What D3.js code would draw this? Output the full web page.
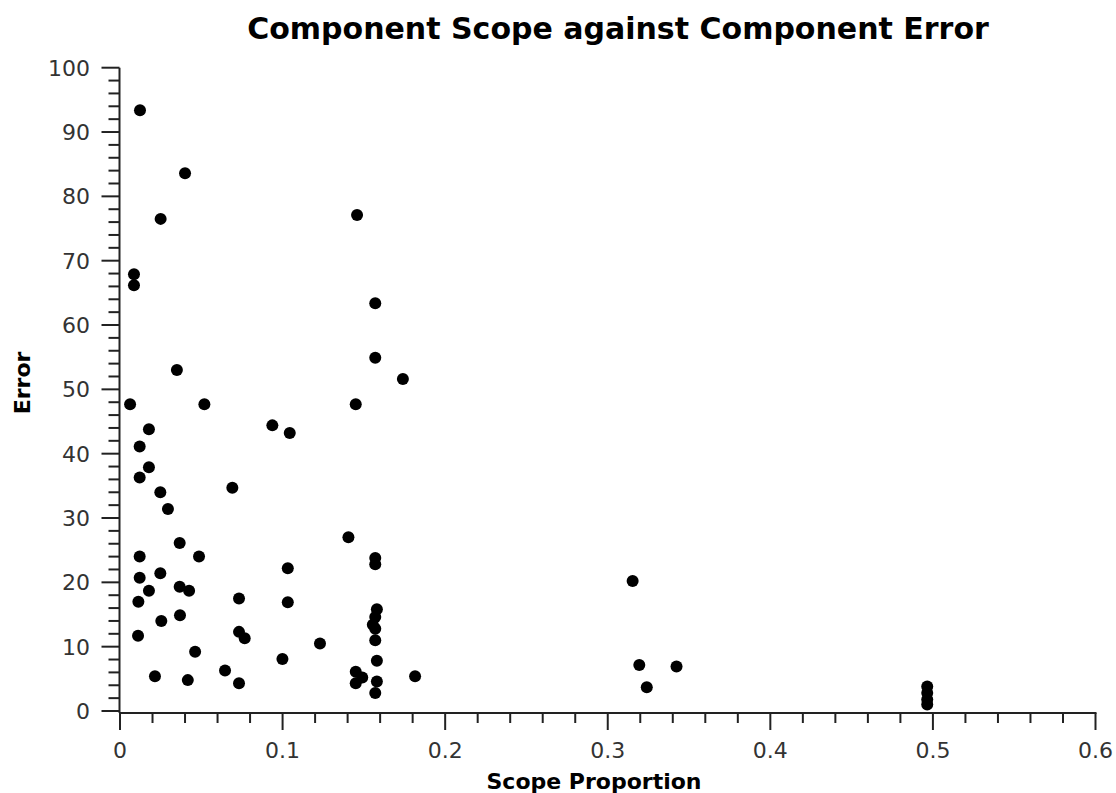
<!DOCTYPE html>
<html>
<head>
<meta charset="utf-8">
<script src="https://cdn.jsdelivr.net/npm/d3@7"></script>
<style>
  html, body { margin: 0; padding: 0; background: #fff; }
  svg { display: block; }
  text { font-family: "DejaVu Sans", sans-serif; }
</style>
</head>
<body>
<svg id="chart" width="1116" height="793"></svg>
<script>
// Scope proportion (x) and error (y) for each component
const scopeProportion = [
  0.0062, 0.0519, 0.1450, 0.0178, 0.0937, 0.1044, 0.0121, 0.0178, 0.0121, 0.0248,
  0.0691, 0.0295, 0.1405, 0.0367, 0.0121, 0.0486, 0.1570, 0.1570, 0.1032, 0.0121,
  0.0248, 0.0178, 0.0367, 0.0425, 0.0113, 0.0732, 0.1032, 0.1580, 0.1570, 0.1555,
  0.1570, 0.1570, 0.1580, 0.1580, 0.1570, 0.1450, 0.1490, 0.1450, 0.1815, 0.1230,
  0.0999, 0.0646, 0.0732, 0.0417, 0.0215, 0.0462, 0.0111, 0.0254, 0.0369, 0.0732,
  0.0767, 0.0123, 0.0400, 0.0250, 0.1458, 0.0086, 0.0086, 0.1570, 0.1570, 0.0350,
  0.1740, 0.3153, 0.3194, 0.3423, 0.3240, 0.4965, 0.4965, 0.4965, 0.4965
];
const errorValues = [
  47.7, 47.7, 47.7, 43.8, 44.4, 43.2, 41.1, 37.9, 36.3, 34.0,
  34.7, 31.4, 27.0, 26.1, 24.0, 24.0, 23.8, 22.8, 22.2, 20.7,
  21.4, 18.7, 19.3, 18.7, 17.0, 17.5, 16.9, 15.8, 14.6, 13.4,
  12.8, 11.0, 7.8, 4.6, 2.8, 6.1, 5.2, 4.3, 5.4, 10.5,
  8.1, 6.3, 4.3, 4.8, 5.4, 9.2, 11.7, 14.0, 14.9, 12.3,
  11.3, 93.4, 83.6, 76.5, 77.1, 67.9, 66.2, 63.4, 54.9, 53.0,
  51.6, 20.2, 7.15, 6.9, 3.7, 3.8, 2.8, 1.8, 1.0
];
const xTickValues = [0, 0.1, 0.2, 0.3, 0.4, 0.5, 0.6];
const xTickLabels = ["0", "0.1", "0.2", "0.3", "0.4", "0.5", "0.6"];
const yTickValues = [0, 10, 20, 30, 40, 50, 60, 70, 80, 90, 100];
const yTickLabels = ["0", "10", "20", "30", "40", "50", "60", "70", "80", "90", "100"];

const titleText = "Component Scope against Component Error";
const xLabelText = "Scope Proportion";
const yLabelText = "Error";

const points = scopeProportion.map((s, i) => ({ x: s, y: errorValues[i] }));

const svg = d3.select("#chart");

const x = d3.scaleLinear().domain([0, 0.6]).range([120, 1095.5]);
const y = d3.scaleLinear().domain([0, 100]).range([711, 67.7]);

const axisX = 119.5;   // y-axis line sits slightly left of x = 0
const axisY = 713;     // x-axis line sits slightly below y = 0
const tickColor = "#222";
const labelColor = "#333";

// Title
svg.append("text")
  .attr("x", 618)
  .attr("y", 39)
  .attr("text-anchor", "middle")
  .style("font-size", "30px")
  .style("font-weight", "bold")
  .attr("fill", "#000")
  .text(titleText);

// Y axis: line, major ticks every 10, minor ticks every 2
const gy = svg.append("g");
gy.append("line")
  .attr("x1", axisX).attr("x2", axisX)
  .attr("y1", y(100)).attr("y2", axisY)
  .attr("stroke", tickColor).attr("stroke-width", 2);
const yMinor = d3.range(0, 100.01, 2).filter(v => v % 10 !== 0);
gy.selectAll("line.minor").data(yMinor).join("line")
  .attr("class", "minor")
  .attr("x1", axisX - 11).attr("x2", axisX)
  .attr("y1", d => y(d)).attr("y2", d => y(d))
  .attr("stroke", tickColor).attr("stroke-width", 2);
gy.selectAll("line.major").data(yTickValues).join("line")
  .attr("class", "major")
  .attr("x1", axisX - 18).attr("x2", axisX)
  .attr("y1", d => y(d)).attr("y2", d => y(d))
  .attr("stroke", tickColor).attr("stroke-width", 2);
gy.selectAll("text").data(yTickValues).join("text")
  .attr("x", 90)
  .attr("y", d => y(d))
  .attr("dy", "0.36em")
  .attr("text-anchor", "end")
  .style("font-size", "22px")
  .attr("fill", labelColor)
  .text((d, i) => yTickLabels[i]);

// X axis: line, major ticks every 0.1, minor ticks every 0.02
const gx = svg.append("g");
gx.append("line")
  .attr("x1", axisX).attr("x2", x(0.6) + 1)
  .attr("y1", axisY).attr("y2", axisY)
  .attr("stroke", tickColor).attr("stroke-width", 2);
const xMinor = d3.range(0, 30).map(i => i * 0.02).filter((v, i) => i % 5 !== 0);
gx.selectAll("line.minor").data(xMinor).join("line")
  .attr("class", "minor")
  .attr("x1", d => x(d)).attr("x2", d => x(d))
  .attr("y1", axisY).attr("y2", axisY + 10)
  .attr("stroke", tickColor).attr("stroke-width", 2);
gx.selectAll("line.major").data(xTickValues).join("line")
  .attr("class", "major")
  .attr("x1", d => x(d)).attr("x2", d => x(d))
  .attr("y1", axisY).attr("y2", axisY + 17)
  .attr("stroke", tickColor).attr("stroke-width", 2);
gx.selectAll("text").data(xTickValues).join("text")
  .attr("x", d => x(d))
  .attr("y", 758)
  .attr("text-anchor", "middle")
  .style("font-size", "22px")
  .attr("fill", labelColor)
  .text((d, i) => xTickLabels[i]);

// Axis titles
svg.append("text")
  .attr("x", 594)
  .attr("y", 789)
  .attr("text-anchor", "middle")
  .style("font-size", "22px")
  .style("font-weight", "bold")
  .attr("fill", "#000")
  .text(xLabelText);

svg.append("text")
  .attr("transform", "translate(30,383) rotate(-90)")
  .attr("text-anchor", "middle")
  .style("font-size", "22px")
  .style("font-weight", "bold")
  .attr("fill", "#000")
  .text(yLabelText);

// Points
svg.append("g").selectAll("circle").data(points).join("circle")
  .attr("cx", d => x(d.x))
  .attr("cy", d => y(d.y))
  .attr("r", 6)
  .attr("fill", "#000");
</script>
</body>
</html>
